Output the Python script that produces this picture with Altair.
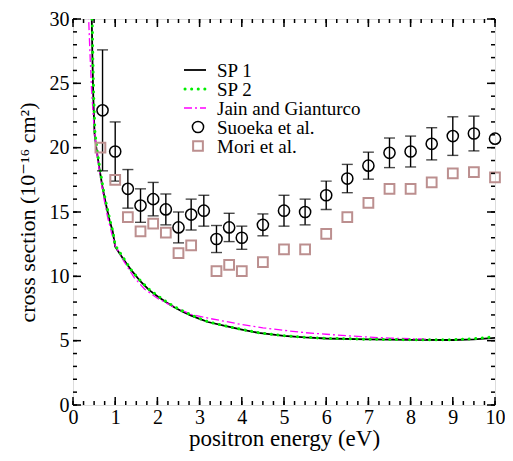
import altair as alt
import pandas as pd

# ---------------- data ----------------
sp1_x = [0.44, 0.46, 0.48, 0.51, 0.56, 0.63, 0.70, 0.78, 0.87, 0.94, 1.0, 1.2, 1.4, 1.6, 1.8, 2.0,
         2.2, 2.4, 2.6, 2.8, 3.0, 3.2, 3.6, 4.0, 4.4, 5.0, 5.5, 6.0, 7.0, 8.0, 9.0, 9.5, 10.0]
sp1_y = [31.0, 27.0, 24.0, 21.1, 19.8, 18.3, 16.9, 15.6, 14.3, 13.5, 12.3, 11.3, 10.4, 9.6, 8.95, 8.45,
         8.0, 7.6, 7.25, 6.95, 6.7, 6.45, 6.14, 5.86, 5.6, 5.38, 5.25, 5.17, 5.1, 5.06, 5.05, 5.1, 5.22]

sp2_x = [0.45, 0.47, 0.49, 0.52, 0.57, 0.64, 0.71, 0.79, 0.88, 0.95, 1.0, 1.2, 1.4, 1.6, 1.8, 2.0,
         2.2, 2.4, 2.6, 2.8, 3.0, 3.2, 3.6, 4.0, 4.4, 5.0, 5.5, 6.0, 7.0, 8.0, 9.0, 9.5, 10.0]
sp2_y = [31.0, 27.0, 24.0, 21.2, 19.8, 18.3, 16.9, 15.6, 14.3, 13.4, 12.4, 11.4, 10.4, 9.65, 9.0, 8.5,
         8.05, 7.65, 7.3, 7.0, 6.72, 6.47, 6.15, 5.87, 5.62, 5.39, 5.26, 5.18, 5.11, 5.07, 5.07, 5.15, 5.3]

jain_x = [0.36, 0.40, 0.44, 0.50, 0.58, 0.66, 0.73, 0.82, 0.92, 1.0, 1.2, 1.45, 1.7, 2.0, 2.4, 2.8,
          3.2, 3.6, 4.0, 4.5, 5.0, 5.5, 6.0, 6.5, 7.0, 7.5, 8.0, 8.5]
jain_y = [31.0, 27.5, 24.5, 21.5, 19.2, 17.5, 16.1, 14.6, 13.3, 12.4, 11.2, 9.9, 9.0, 8.3, 7.6, 7.05,
          6.75, 6.5, 6.25, 6.0, 5.8, 5.62, 5.5, 5.38, 5.28, 5.2, 5.15, 5.1]

suoeka_x = [0.7, 1.0, 1.3, 1.6, 1.9, 2.2, 2.5, 2.8, 3.1, 3.4, 3.7, 4.0, 4.5, 5.0, 5.5, 6.0,
            6.5, 7.0, 7.5, 8.0, 8.5, 9.0, 9.5, 10.0]
suoeka_y = [22.9, 19.7, 16.8, 15.5, 16.0, 15.2, 13.8, 14.8, 15.1, 12.9, 13.8, 13.0, 14.0, 15.1, 15.0, 16.3,
            17.6, 18.6, 19.6, 19.7, 20.3, 20.9, 21.1, 20.7]
suoeka_err = [4.7, 2.3, 1.5, 1.3, 1.3, 1.2, 1.2, 1.2, 1.2, 1.05, 1.1, 0.9, 0.85, 1.2, 1.0, 1.1,
              1.1, 1.05, 1.15, 1.2, 1.25, 1.5, 1.35, 0.0]

mori_x = [0.65, 1.0, 1.3, 1.6, 1.9, 2.2, 2.5, 2.8, 3.4, 3.7, 4.0, 4.5, 5.0, 5.5, 6.0, 6.5,
          7.0, 7.5, 8.0, 8.5, 9.0, 9.5, 10.0]
mori_y = [20.0, 17.5, 14.6, 13.5, 14.1, 13.4, 11.8, 12.4, 10.4, 10.9, 10.4, 11.1, 12.1, 12.1, 13.3, 14.6,
          15.7, 16.8, 16.8, 17.3, 18.0, 18.1, 17.7]

x_major = [0, 1, 2, 3, 4, 5, 6, 7, 8, 9, 10]
x_minor = [i * 0.25 for i in range(41)]
y_major = [0, 5, 10, 15, 20, 25, 30]
y_minor = list(range(31))

legend_labels = ["SP 1", "SP 2", "Jain and Gianturco", "Suoeka et al.", "Mori et al."]

# ---------------- styling ----------------
W, H = 422, 386
FONT = "Liberation Serif, Times New Roman, Times, DejaVu Serif, serif"
MAGENTA = "#ff00ff"
GREEN = "#00ee00"
BROWN = "#bc8f8f"

xs = alt.Scale(domain=[0, 10], nice=False, zero=False)
ys = alt.Scale(domain=[0, 30], nice=False, zero=False)

xax = alt.Axis(values=x_major, ticks=False, domain=False, grid=False, labelFontSize=20,
               labelFont=FONT, labelColor="black", labelPadding=2, title="positron energy (eV)",
               titleFont=FONT, titleFontSize=23, titleFontWeight="normal", titleColor="black",
               titlePadding=0, labelFlush=False)
yax = alt.Axis(values=y_major, ticks=False, domain=False, grid=False, labelFontSize=20,
               labelFont=FONT, labelColor="black", labelPadding=4,
               title="cross section (10\u207b\u00b9\u2076 cm\u00b2)",
               titleFont=FONT, titleFontSize=22, titleFontWeight="normal", titleColor="black",
               titlePadding=10, labelFlush=False)

sp1 = pd.DataFrame({"x": sp1_x, "y": sp1_y})
sp2 = pd.DataFrame({"x": sp2_x, "y": sp2_y})
jain = pd.DataFrame({"x": jain_x, "y": jain_y})
suo = pd.DataFrame({"x": suoeka_x, "y": suoeka_y, "err": suoeka_err})
suo["lo"] = suo["y"] - suo["err"]
suo["hi"] = suo["y"] + suo["err"]
mori = pd.DataFrame({"x": mori_x, "y": mori_y})

X = alt.X("x:Q", scale=xs, axis=xax)
Y = alt.Y("y:Q", scale=ys, axis=yax)

l_sp1 = alt.Chart(sp1).mark_line(color="black", strokeWidth=1.8, clip=True).encode(x=X, y=Y)
l_jain = alt.Chart(jain).mark_line(color=MAGENTA, strokeWidth=1.3, strokeDash=[8, 3, 2, 3],
                                   clip=True).encode(x=X, y=Y)
l_sp2 = alt.Chart(sp2).mark_line(color=GREEN, strokeWidth=3, strokeDash=[0.1, 6.5], strokeCap="round",
                                 clip=True).encode(x=X, y=Y)

eb_base = alt.Chart(suo).transform_filter("datum.err > 0")
eb = eb_base.mark_rule(color="black", strokeWidth=1.4).encode(
    x=alt.X("x:Q", scale=xs), y=alt.Y("lo:Q", scale=ys), y2="hi:Q")
cap_hi = eb_base.mark_tick(color="black", thickness=1.4, size=11, orient="horizontal").encode(
    x=alt.X("x:Q", scale=xs), y=alt.Y("hi:Q", scale=ys))
cap_lo = eb_base.mark_tick(color="black", thickness=1.4, size=11, orient="horizontal").encode(
    x=alt.X("x:Q", scale=xs), y=alt.Y("lo:Q", scale=ys))

pts_suo = alt.Chart(suo).mark_point(shape="circle", filled=False, color="black", strokeWidth=1.5,
                                    size=125, opacity=1).encode(x=alt.X("x:Q", scale=xs),
                                                                y=alt.Y("y:Q", scale=ys))
pts_mori = alt.Chart(mori).mark_point(shape="square", filled=False, color=BROWN, strokeWidth=2,
                                      size=95, opacity=1).encode(x=alt.X("x:Q", scale=xs),
                                                                 y=alt.Y("y:Q", scale=ys))

# inward ticks on all four sides
xmaj = pd.DataFrame({"v": x_major})
xmin = pd.DataFrame({"v": x_minor})
ymaj = pd.DataFrame({"v": y_major})
ymin = pd.DataFrame({"v": y_minor})
MAJ, MIN = 8, 4
tick_layers = []
for df, L in [(xmaj, MAJ), (xmin, MIN)]:
    tick_layers.append(alt.Chart(df).mark_rule(color="black", strokeWidth=1.5).encode(
        x=alt.X("v:Q", scale=xs), y=alt.value(H), y2=alt.value(H - L)))
    tick_layers.append(alt.Chart(df).mark_rule(color="black", strokeWidth=1.5).encode(
        x=alt.X("v:Q", scale=xs), y=alt.value(0), y2=alt.value(L)))
for df, L in [(ymaj, MAJ), (ymin, MIN)]:
    tick_layers.append(alt.Chart(df).mark_rule(color="black", strokeWidth=1.5).encode(
        y=alt.Y("v:Q", scale=ys), x=alt.value(0), x2=alt.value(L)))
    tick_layers.append(alt.Chart(df).mark_rule(color="black", strokeWidth=1.5).encode(
        y=alt.Y("v:Q", scale=ys), x=alt.value(W), x2=alt.value(W - L)))

# legend (layout positions in pixels inside the plot area)
row_y = [51, 70, 89, 108, 127]
sym_x0, sym_x1, sym_c, txt_x = 111, 133, 125, 144
one = pd.DataFrame({"k": [0]})
leg = []
leg.append(alt.Chart(one).mark_rule(color="black", strokeWidth=1.8).encode(
    x=alt.value(sym_x0), x2=alt.value(sym_x1), y=alt.value(row_y[0])))
leg.append(alt.Chart(one).mark_rule(color=GREEN, strokeWidth=3, strokeDash=[0.1, 6.5], strokeCap="round").encode(
    x=alt.value(sym_x0 + 1), x2=alt.value(sym_x1), y=alt.value(row_y[1])))
leg.append(alt.Chart(one).mark_rule(color=MAGENTA, strokeWidth=1.3, strokeDash=[8, 3, 2, 3]).encode(
    x=alt.value(sym_x0), x2=alt.value(sym_x1), y=alt.value(row_y[2])))
leg.append(alt.Chart(one).mark_point(shape="circle", filled=False, color="black", strokeWidth=1.5,
                                     size=125, opacity=1).encode(x=alt.value(sym_c), y=alt.value(row_y[3])))
leg.append(alt.Chart(one).mark_point(shape="square", filled=False, color=BROWN, strokeWidth=2,
                                     size=95, opacity=1).encode(x=alt.value(sym_c), y=alt.value(row_y[4])))
for lab, ry in zip(legend_labels, row_y):
    leg.append(alt.Chart(pd.DataFrame({"t": [lab]})).mark_text(
        align="left", baseline="middle", font=FONT, fontSize=19, color="black", dy=1).encode(
        x=alt.value(txt_x), y=alt.value(ry), text="t:N"))

chart = alt.layer(
    l_sp1, l_jain, l_sp2, eb, cap_hi, cap_lo, pts_suo, pts_mori, *tick_layers, *leg
).properties(
    width=W, height=H,
    autosize=alt.AutoSizeParams(type="none"),
    padding={"left": 65, "top": 11, "right": 10, "bottom": 48},
).configure_view(stroke="black", strokeWidth=2).configure(background="white")

chart.save("out.html", embed_options={"renderer": "svg", "actions": False})
